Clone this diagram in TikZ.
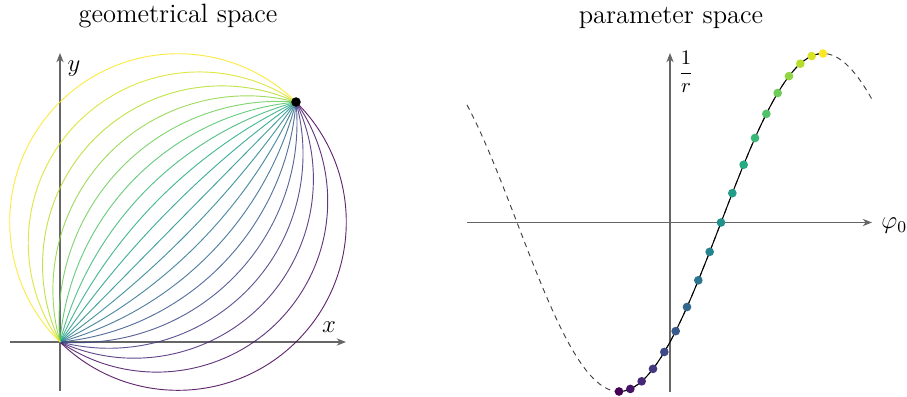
\documentclass[tikz,border=0pt]{standalone}
\usetikzlibrary{arrows.meta}
\usepackage{xcolor}

% viridis, 19 steps
\definecolor{c0}{RGB}{68,1,84}
\definecolor{c1}{RGB}{70,20,102}
\definecolor{c2}{RGB}{71,40,119}
\definecolor{c3}{RGB}{67,57,129}
\definecolor{c4}{RGB}{62,74,136}
\definecolor{c5}{RGB}{56,89,140}
\definecolor{c6}{RGB}{49,103,141}
\definecolor{c7}{RGB}{43,117,142}
\definecolor{c8}{RGB}{38,131,141}
\definecolor{c9}{RGB}{33,145,140}
\definecolor{c10}{RGB}{34,158,136}
\definecolor{c11}{RGB}{38,171,130}
\definecolor{c12}{RGB}{57,183,119}
\definecolor{c13}{RGB}{80,195,105}
\definecolor{c14}{RGB}{110,205,88}
\definecolor{c15}{RGB}{144,214,67}
\definecolor{c16}{RGB}{182,221,43}
\definecolor{c17}{RGB}{217,227,38}
\definecolor{c18}{RGB}{253,231,37}

\begin{document}
\begin{tikzpicture}[x=0.17cm, y=0.17cm,
  axis/.style={draw=black!60, line width=0.7pt, -{Stealth[length=4.5pt,width=3.5pt]}},
  arcline/.style={line width=0.45pt, draw opacity=0.85},
  title/.style={font=\fontsize{12.8}{15}\selectfont},
  dot/.style={circle, inner sep=0pt, minimum size=4.2pt},
  guess/.style={draw=black!75, line width=0.45pt, dash pattern=on 2.6pt off 2.2pt}
]
  \useasboundingbox (0,0) rectangle (90.7,39.6);

  % geometrical space
  \node[title] (tgeo) at (17.8,38.0) {geometrical space};
  \coordinate (O) at (6.0,5.4);
  \coordinate (P) at (29.6,29.4);
  \coordinate (xl) at (1.0,5.4);
  \coordinate (xr) at (34.6,5.4);
  \coordinate (yb) at (6.0,0.5);
  \coordinate (yt) at (6.0,34.3);
  \draw[axis] (xl) -- (xr);
  \draw[axis] (yb) -- (yt);
  \node[font=\large] (xlab) at (32.9,6.9) {$x$};
  \node[font=\large] (ylab) at (7.4,32.7) {$y$};

  \def\phiP{45.48}
  \def\hh{16.83}
  \foreach \i in {0,...,18} {
    \pgfmathsetmacro{\a}{-90+10*\i}
    \ifnum\i=9
      \draw[arcline, draw=c\i] (O) -- (P);
    \else
      \pgfmathsetmacro{\R}{\hh/abs(sin(\a))}
      \pgfmathsetmacro{\s}{\phiP+\a+90*sign(\a)}
      \draw[arcline, draw=c\i] (O) arc[start angle=\s, end angle=\s-2*\a, radius=\R];
    \fi
  }
  \node[dot, fill=black, minimum size=4.6pt] (pt) at (P) {};

  % parameter space
  \node[title] (tpar) at (67.1,37.8) {parameter space};
  \coordinate (pl) at (46.7,17.35);
  \coordinate (pr) at (87.2,17.35);
  \coordinate (pb) at (67.0,0.45);
  \coordinate (pt2) at (67.0,34.3);
  \draw[axis] (pl) -- (pr);
  \draw[axis] (pb) -- (pt2);
  \node[anchor=west, font=\large, inner sep=0pt] (philab) at (88.1,17.0) {$\varphi_0$};
  \node (rlab) at (68.6,32.4) {$\displaystyle\frac{1}{r}$};

  \draw[guess] plot[domain=46.7:87.3, samples=120] (\x, {17.35+16.9*sin((\x-72.1)*180/20.4)});
  \draw[line width=0.5pt] plot[domain=61.9:82.3, samples=80] (\x, {17.35+16.9*sin((\x-72.1)*180/20.4)});
  \foreach \i in {0,...,18}
    \node[dot, fill=c\i] (d\i) at ({61.9+\i*20.4/18}, {17.35+16.9*sin(-90+10*\i)}) {};
\end{tikzpicture}
\end{document}
